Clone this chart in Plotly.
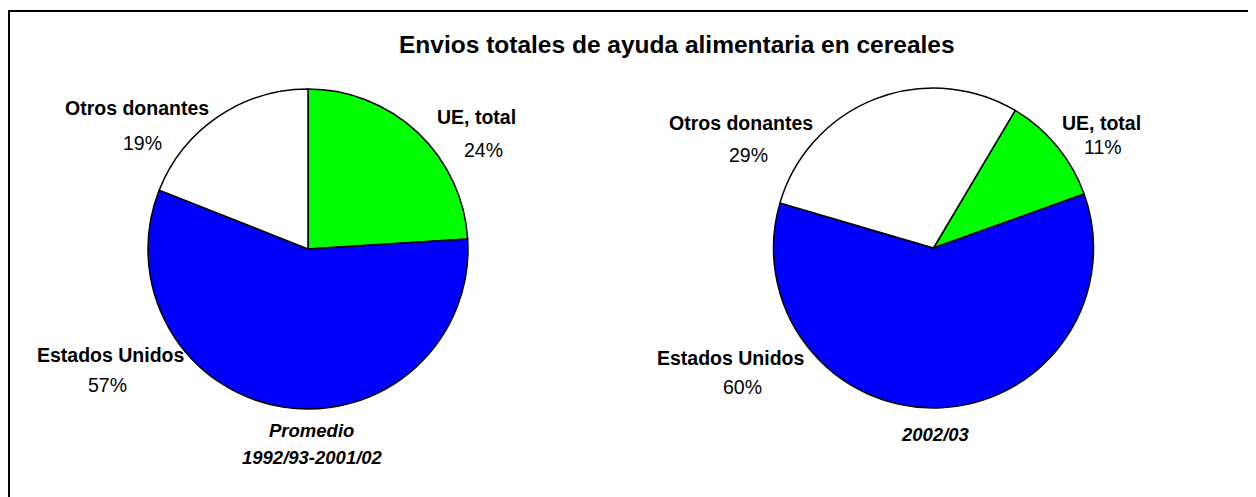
"""Envios totales de ayuda alimentaria en cereales - two pie charts."""

import plotly.graph_objects as go


# ─── Data ─────────────────────────────────────────────────────────────────────

CATEGORIES = ["UE, total", "Estados Unidos", "Otros donantes"]
SHARES_AVG = [24, 57, 19]      # Promedio 1992/93-2001/02
SHARES_0203 = [11, 60, 29]     # 2002/03

SLICE_COLORS = ["#00FF00", "#0000FF", "#FFFFFF"]

W, H = 1256, 497
OFF = 8          # default body margin of the html page
FW, FH = W - OFF, H - OFF
FONT = "Arial, Liberation Sans, sans-serif"


def px(x, y):
    """Page pixel position -> paper coords (margins are zero)."""
    return (x - OFF) / FW, 1 - (y - OFF) / FH


def dom(cx, cy, r):
    x0, y0 = px(cx - r, cy + r)
    x1, y1 = px(cx + r, cy - r)
    return dict(x=[x0, x1], y=[y0, y1])


fig = go.Figure()

fig.add_trace(go.Pie(
    labels=CATEGORIES, values=SHARES_AVG,
    sort=False, direction="clockwise", rotation=0,
    marker=dict(colors=SLICE_COLORS, line=dict(color="#000", width=1.5)),
    textinfo="none", hoverinfo="label+percent",
    domain=dom(308, 249, 160),
))
fig.add_trace(go.Pie(
    labels=CATEGORIES, values=SHARES_0203,
    sort=False, direction="clockwise", rotation=30.7,
    marker=dict(colors=SLICE_COLORS, line=dict(color="#000", width=1.5)),
    textinfo="none", hoverinfo="label+percent",
    domain=dom(933.5, 248, 160),
))


# ─── Labels ───────────────────────────────────────────────────────────────────

annots = []


def label(text, x, y, bold=False, italic=False, size=19.5, anchor="center"):
    if bold:
        text = f"<b>{text}</b>"
    if italic:
        text = f"<i>{text}</i>"
    ax, ay = px(x, y)
    annots.append(dict(
        text=text, x=ax, y=ay, xref="paper", yref="paper",
        xanchor=anchor, yanchor="middle", showarrow=False,
        font=dict(family=FONT, size=size, color="#000"),
    ))


# name position, percent position (pixel centres) for each slice
left_pos = [((476, 117), (483, 150)), ((111, 355), (107, 385)), ((137, 108), (142, 143))]
right_pos = [((1101, 123), (1103, 147)), ((731, 358), (742, 387)), ((741, 123), (748, 155))]

for cat, v, (npos, ppos) in zip(CATEGORIES, SHARES_AVG, left_pos):
    label(cat, *npos, bold=True)
    label(f"{v}%", *ppos)
for cat, v, (npos, ppos) in zip(CATEGORIES, SHARES_0203, right_pos):
    label(cat, *npos, bold=True)
    label(f"{v}%", *ppos)

label("Promedio", 311, 430, bold=True, italic=True, size=18.5)
label("1992/93-2001/02", 312, 457, bold=True, italic=True, size=18.5)
label("2002/03", 935, 434, bold=True, italic=True, size=18.5)
label("Envios totales de ayuda alimentaria en cereales", 397, 45, bold=True,
      size=24.5, anchor="left")

# chart frame (right/bottom edges fall outside the picture)
bx0, by0 = px(9, 11)
fig.add_shape(type="rect", xref="paper", yref="paper",
              x0=bx0, y0=-0.05, x1=1.05, y1=by0,
              line=dict(color="#000", width=2), fillcolor="rgba(0,0,0,0)")

fig.update_layout(
    width=FW, height=FH,
    margin=dict(l=0, r=0, t=0, b=0),
    showlegend=False,
    annotations=annots,
    paper_bgcolor="#FFFFFF", plot_bgcolor="#FFFFFF",
    font=dict(family=FONT),
)

fig.write_html("out.html")
